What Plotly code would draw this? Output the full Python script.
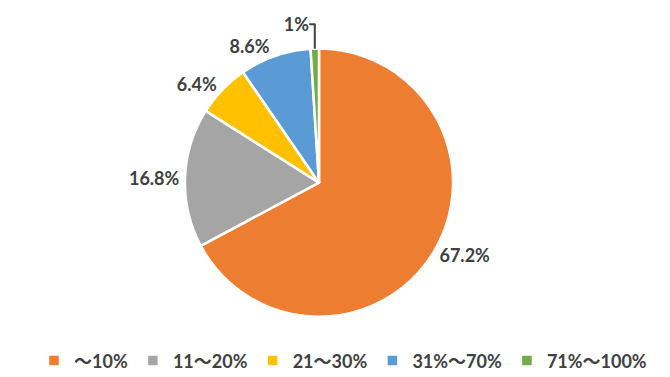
import plotly.graph_objects as go

categories = ["～10%", "11～20%", "21～30%", "31%～70%", "71%～100%"]
values = [67.2, 16.8, 6.4, 8.6, 1.0]
value_labels = ["67.2%", "16.8%", "6.4%", "8.6%", "1%"]
colors = ["#ED7D31", "#A5A5A5", "#FFC000", "#5B9BD5", "#70AD47"]

FONT = "Lato, Noto Sans CJK JP"

fig = go.Figure(go.Pie(
    labels=categories,
    values=values,
    text=value_labels,
    texttemplate="%{text}",
    textposition="outside",
    textfont=dict(size=18, color="#404040", family=FONT, weight="bold"),
    marker=dict(colors=colors, line=dict(color="white", width=2.5)),
    sort=False,
    direction="clockwise",
    rotation=0,
    hole=0,
    domain=dict(x=[176/670, 446/670], y=[1-308/377, 1-37/377]),
))

fig.update_layout(
    width=670, height=377,
    margin=dict(l=0, r=0, t=0, b=0),
    paper_bgcolor="white",
    showlegend=True,
    legend=dict(
        orientation="h", x=0.5, xanchor="center", y=0.015, yanchor="bottom",
        font=dict(size=18, color="#404040", family=FONT, weight="bold"),
        traceorder="normal", itemwidth=30,
    ),
    font=dict(family=FONT),
)

fig.write_html("out.html")
